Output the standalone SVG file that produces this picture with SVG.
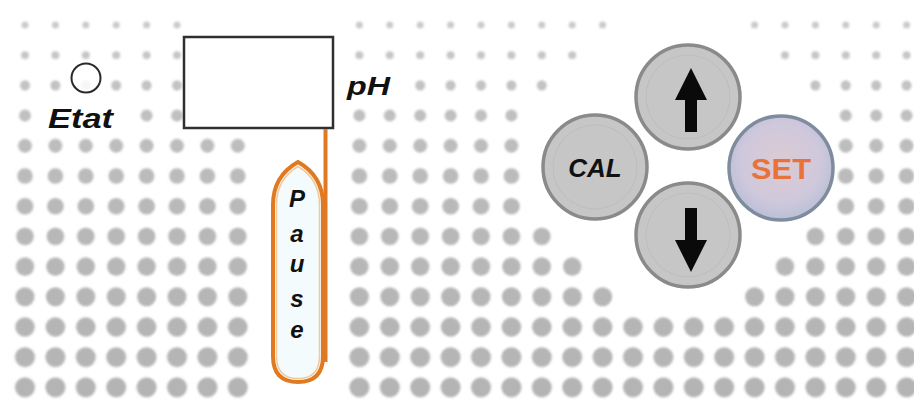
<svg xmlns="http://www.w3.org/2000/svg" width="914" height="401" viewBox="0 0 914 401">
<style>
.lbl{font-family:"Liberation Sans",Arial,sans-serif;font-weight:bold;font-style:italic;fill:#111}
.btn{fill:#c6c6c6;stroke:#8a8a8a;stroke-width:3.5}
.ring{fill:none;stroke:#bdbdbd;stroke-width:1}
.arrow{fill:#0a0a0a}
</style>
<defs>
<filter id="soft" x="-5%" y="-5%" width="110%" height="110%"><feGaussianBlur stdDeviation="0.9"/></filter>
<radialGradient id="setg" cx="50%" cy="45%" r="55%">
<stop offset="0" stop-color="#dccbd2"/>
<stop offset="0.7" stop-color="#cfc8dc"/>
<stop offset="1" stop-color="#b9bfd6"/>
</radialGradient>
<pattern id="p0" patternUnits="userSpaceOnUse" x="9.8" y="9.9" width="30.4" height="30.2"><circle cx="15.2" cy="15.1" r="3.5" fill="#cacaca"/></pattern>
<pattern id="p1" patternUnits="userSpaceOnUse" x="9.8" y="40.1" width="30.4" height="30.2"><circle cx="15.2" cy="15.1" r="4" fill="#c6c6c6"/></pattern>
<pattern id="p2" patternUnits="userSpaceOnUse" x="9.8" y="70.3" width="30.4" height="30.2"><circle cx="15.2" cy="15.1" r="5" fill="#c3c3c3"/></pattern>
<pattern id="p3" patternUnits="userSpaceOnUse" x="9.8" y="100.5" width="30.4" height="30.2"><circle cx="15.2" cy="15.1" r="6" fill="#c0c0c0"/></pattern>
<pattern id="p4" patternUnits="userSpaceOnUse" x="9.8" y="130.7" width="30.4" height="30.2"><circle cx="15.2" cy="15.1" r="7" fill="#bdbdbd"/></pattern>
<pattern id="p5" patternUnits="userSpaceOnUse" x="9.8" y="160.9" width="30.4" height="30.2"><circle cx="15.2" cy="15.1" r="7.8" fill="#bbbbbb"/></pattern>
<pattern id="p6" patternUnits="userSpaceOnUse" x="9.8" y="191.1" width="30.4" height="30.2"><circle cx="15.2" cy="15.1" r="8.4" fill="#b9b9b9"/></pattern>
<pattern id="p7" patternUnits="userSpaceOnUse" x="9.8" y="221.3" width="30.4" height="30.2"><circle cx="15.2" cy="15.1" r="8.8" fill="#b8b8b8"/></pattern>
<pattern id="p8" patternUnits="userSpaceOnUse" x="9.8" y="251.5" width="30.4" height="30.2"><circle cx="15.2" cy="15.1" r="9.2" fill="#b7b7b7"/></pattern>
<pattern id="p9" patternUnits="userSpaceOnUse" x="9.8" y="281.7" width="30.4" height="30.2"><circle cx="15.2" cy="15.1" r="9.5" fill="#b6b6b6"/></pattern>
<pattern id="p10" patternUnits="userSpaceOnUse" x="9.8" y="311.9" width="30.4" height="30.2"><circle cx="15.2" cy="15.1" r="9.8" fill="#b5b5b5"/></pattern>
<pattern id="p11" patternUnits="userSpaceOnUse" x="9.8" y="342.1" width="30.4" height="30.2"><circle cx="15.2" cy="15.1" r="10" fill="#b5b5b5"/></pattern>
<pattern id="p12" patternUnits="userSpaceOnUse" x="9.8" y="372.3" width="30.4" height="30.2"><circle cx="15.2" cy="15.1" r="10" fill="#b4b4b4"/></pattern>
</defs>
<rect width="914" height="401" fill="#ffffff"/>
<g id="dots" filter="url(#soft)">
<rect x="9.8" y="9.9" width="182.4" height="30.2" fill="url(#p0)"/>
<rect x="344.2" y="9.9" width="273.6" height="30.2" fill="url(#p0)"/>
<rect x="739.4" y="9.9" width="182.4" height="30.2" fill="url(#p0)"/>
<rect x="9.8" y="40.1" width="182.4" height="30.2" fill="url(#p1)"/>
<rect x="344.2" y="40.1" width="243.2" height="30.2" fill="url(#p1)"/>
<rect x="769.8" y="40.1" width="152" height="30.2" fill="url(#p1)"/>
<rect x="9.8" y="70.3" width="182.4" height="30.2" fill="url(#p2)"/>
<rect x="405" y="70.3" width="152" height="30.2" fill="url(#p2)"/>
<rect x="800.2" y="70.3" width="121.6" height="30.2" fill="url(#p2)"/>
<rect x="9.8" y="100.5" width="30.4" height="30.2" fill="url(#p3)"/>
<rect x="131.4" y="100.5" width="60.8" height="30.2" fill="url(#p3)"/>
<rect x="344.2" y="100.5" width="182.4" height="30.2" fill="url(#p3)"/>
<rect x="830.6" y="100.5" width="91.2" height="30.2" fill="url(#p3)"/>
<rect x="9.8" y="130.7" width="243.2" height="30.2" fill="url(#p4)"/>
<rect x="344.2" y="130.7" width="182.4" height="30.2" fill="url(#p4)"/>
<rect x="830.6" y="130.7" width="91.2" height="30.2" fill="url(#p4)"/>
<rect x="9.8" y="160.9" width="243.2" height="30.2" fill="url(#p5)"/>
<rect x="344.2" y="160.9" width="182.4" height="30.2" fill="url(#p5)"/>
<rect x="830.6" y="160.9" width="91.2" height="30.2" fill="url(#p5)"/>
<rect x="9.8" y="191.1" width="243.2" height="30.2" fill="url(#p6)"/>
<rect x="344.2" y="191.1" width="182.4" height="30.2" fill="url(#p6)"/>
<rect x="830.6" y="191.1" width="91.2" height="30.2" fill="url(#p6)"/>
<rect x="9.8" y="221.3" width="243.2" height="30.2" fill="url(#p7)"/>
<rect x="344.2" y="221.3" width="212.8" height="30.2" fill="url(#p7)"/>
<rect x="800.2" y="221.3" width="121.6" height="30.2" fill="url(#p7)"/>
<rect x="9.8" y="251.5" width="243.2" height="30.2" fill="url(#p8)"/>
<rect x="344.2" y="251.5" width="243.2" height="30.2" fill="url(#p8)"/>
<rect x="769.8" y="251.5" width="152" height="30.2" fill="url(#p8)"/>
<rect x="9.8" y="281.7" width="243.2" height="30.2" fill="url(#p9)"/>
<rect x="344.2" y="281.7" width="273.6" height="30.2" fill="url(#p9)"/>
<rect x="739.4" y="281.7" width="182.4" height="30.2" fill="url(#p9)"/>
<rect x="9.8" y="311.9" width="243.2" height="30.2" fill="url(#p10)"/>
<rect x="344.2" y="311.9" width="577.6" height="30.2" fill="url(#p10)"/>
<rect x="9.8" y="342.1" width="243.2" height="30.2" fill="url(#p11)"/>
<rect x="344.2" y="342.1" width="577.6" height="30.2" fill="url(#p11)"/>
<rect x="9.8" y="372.3" width="243.2" height="30.2" fill="url(#p12)"/>
<rect x="344.2" y="372.3" width="577.6" height="30.2" fill="url(#p12)"/>
</g>
<g id="etat">
<circle cx="86" cy="78" r="14.5" fill="#ffffff" fill-opacity="0.85" stroke="#2a2a2a" stroke-width="2"/>
<text class="lbl" x="48" y="128" font-size="28" textLength="65" lengthAdjust="spacingAndGlyphs">Etat</text>
</g>
<g id="display">
<rect x="184" y="37" width="149" height="91" fill="#ffffff" stroke="#2f2f2f" stroke-width="2.5"/>
</g>
<g id="ph-label">
<text class="lbl" x="347" y="95" font-size="26" textLength="43" lengthAdjust="spacingAndGlyphs">pH</text>
</g>
<g id="connectors">
<line x1="325.5" y1="129" x2="325.5" y2="362" stroke="#e07a22" stroke-width="4"/>
</g>
<g id="pause">
<path d="M273 205 Q273 176 298 162 Q323 176 323 205 L323 356 Q323 382 298 382 Q273 382 273 356 Z" fill="#f3fbfd" stroke="#e07a22" stroke-width="4"/>
<path d="M276.5 205 Q276.5 179 298 166.5 Q319.5 179 319.5 205 L319.5 356 Q319.5 378.5 298 378.5 Q276.5 378.5 276.5 356 Z" fill="none" stroke="#f6c896" stroke-width="1.5"/>
<g class="lbl" font-size="24" text-anchor="middle">
<text x="297" y="207">P</text>
<text x="297" y="242">a</text>
<text x="297" y="272">u</text>
<text x="297" y="307">s</text>
<text x="297" y="338">e</text>
</g>
</g>
<g id="btn-up">
<circle class="btn" cx="688" cy="97" r="52"/>
<circle class="ring" cx="688" cy="97" r="42"/>
<polygon class="arrow" points="691,68 707,100 697,100 697,132 685,132 685,100 675,100"/>
</g>
<g id="btn-cal">
<circle class="btn" cx="595" cy="167" r="52"/>
<circle class="ring" cx="595" cy="167" r="42"/>
<text class="lbl" x="595" y="177" font-size="26" text-anchor="middle">CAL</text>
</g>
<g id="btn-set">
<circle cx="781" cy="168" r="52" fill="url(#setg)" stroke="#7f8c9e" stroke-width="3.5"/>
<text x="781" y="179" font-family="Liberation Sans,Arial,sans-serif" font-weight="bold" font-size="29" fill="#e8733a" text-anchor="middle" textLength="60" lengthAdjust="spacingAndGlyphs">SET</text>
</g>
<g id="btn-down">
<circle class="btn" cx="688" cy="235" r="52"/>
<circle class="ring" cx="688" cy="235" r="42"/>
<polygon class="arrow" points="685,208 697,208 697,240 707,240 691,272 675,240 685,240"/>
</g>
</svg>
